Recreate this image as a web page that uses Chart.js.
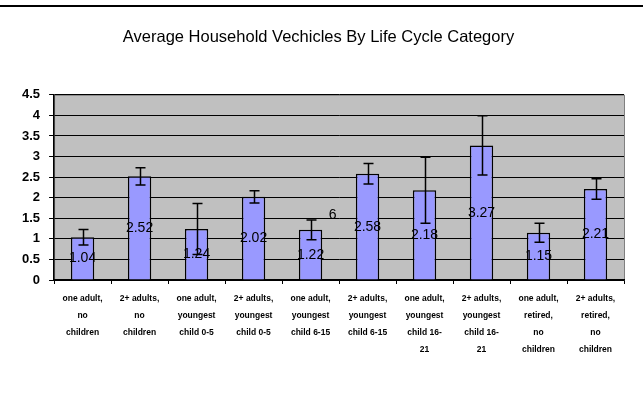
<!DOCTYPE html>
<html>
<head>
  <meta charset="UTF-8">
  <script src="https://cdn.jsdelivr.net/npm/chart.js"></script>
  <title>Average Household Vechicles</title>
  <style>
    html, body { margin: 0; padding: 0; background: #ffffff; }
    .topline { position: absolute; left: 0; top: 0; width: 643px; height: 5px; border-bottom: 2px solid #000; }
    .wrap { position: relative; width: 643px; height: 416px; }
  </style>
</head>
<body>
  <div class="wrap">
    <div class="topline"></div>
    <canvas id="chartBar" width="643" height="416"></canvas>
  </div>
  <script>
    const categories = [
      ['one adult,', 'no', 'children'],
      ['2+ adults,', 'no', 'children'],
      ['one adult,', 'youngest', 'child 0-5'],
      ['2+ adults,', 'youngest', 'child 0-5'],
      ['one adult,', 'youngest', 'child 6-15'],
      ['2+ adults,', 'youngest', 'child 6-15'],
      ['one adult,', 'youngest', 'child 16-', '21'],
      ['2+ adults,', 'youngest', 'child 16-', '21'],
      ['one adult,', 'retired,', 'no', 'children'],
      ['2+ adults,', 'retired,', 'no', 'children']
    ];
    const avgVehicles = [1.04, 2.52, 1.24, 2.02, 1.22, 2.58, 2.18, 3.27, 1.15, 2.21];
    const errorSize = [0.19, 0.21, 0.62, 0.15, 0.24, 0.25, 0.8, 0.72, 0.23, 0.25];
    const yTicks = [0, 0.5, 1, 1.5, 2, 2.5, 3, 3.5, 4, 4.5];

    // gray plot background
    const plotBg = {
      id: 'plotBg',
      beforeDraw(chart) {
        const { ctx, chartArea: a } = chart;
        ctx.save();
        ctx.fillStyle = '#c0c0c0';
        ctx.fillRect(a.left, a.top, a.right - a.left, a.bottom - a.top);
        ctx.strokeStyle = '#808080';
        ctx.lineWidth = 1;
        ctx.strokeRect(a.left + 0.5, a.top + 0.5, a.right - a.left, a.bottom - a.top);
        ctx.restore();
      }
    };

    // error bars + value labels in the middle of each bar
    const errorBars = {
      id: 'errorBars',
      afterDatasetsDraw(chart) {
        const { ctx, scales: { y } } = chart;
        const meta = chart.getDatasetMeta(0);
        ctx.save();
        ctx.strokeStyle = '#000';
        ctx.lineWidth = 1.5;
        meta.data.forEach((bar, i) => {
          const v = avgVehicles[i], e = errorSize[i];
          const top = y.getPixelForValue(v + e);
          const bot = y.getPixelForValue(v - e);
          const x = Math.round(bar.x) + 0.5;
          ctx.beginPath();
          ctx.moveTo(x, top); ctx.lineTo(x, bot);
          ctx.moveTo(x - 5, top); ctx.lineTo(x + 5, top);
          ctx.moveTo(x - 5, bot); ctx.lineTo(x + 5, bot);
          ctx.stroke();
        });
        ctx.fillStyle = '#000';
        ctx.font = '14px "Liberation Sans", Arial, sans-serif';
        ctx.textAlign = 'center';
        ctx.textBaseline = 'middle';
        meta.data.forEach((bar, i) => {
          ctx.fillText(avgVehicles[i].toFixed(2), bar.x, y.getPixelForValue(avgVehicles[i] / 2));
        });
        // stray label fragment next to the fifth bar
        const b5 = meta.data[4];
        ctx.fillText('6', b5.x + 22, y.getPixelForValue(1.58));
        ctx.restore();
      }
    };

    const ctxBar = document.getElementById('chartBar');
    const barChart = new Chart(ctxBar, {
      type: 'bar',
      data: {
        labels: categories,
        datasets: [{
          data: avgVehicles,
          backgroundColor: '#9999ff',
          borderColor: '#000',
          borderWidth: 1.5,
          barPercentage: 0.41,
          categoryPercentage: 1
        }]
      },
      options: {
        responsive: false,
        animation: false,
        layout: { padding: { left: 13, right: 19, top: 0, bottom: 52 } },
        scales: {
          y: {
            min: 0,
            max: 4.5,
            afterBuildTicks(axis) { axis.ticks = yTicks.map(v => ({ value: v })); },
            grid: { color: '#000', lineWidth: 1, tickLength: 5, tickColor: '#000' },
            border: { color: '#000', width: 1.5 },
            ticks: {
              color: '#000',
              padding: 9,
              callback: v => String(v),
              font: { family: '"Liberation Sans", Arial, sans-serif', size: 13, weight: 'bold' }
            }
          },
          x: {
            grid: { offset: true, drawOnChartArea: false, tickLength: 4, tickColor: '#000' },
            border: { color: '#000', width: 1.5 },
            ticks: {
              color: '#000',
              maxRotation: 0,
              autoSkip: false,
              padding: 6,
              font: { family: '"Liberation Sans", Arial, sans-serif', size: 8.5, weight: 'bold', lineHeight: 2.0 }
            }
          }
        },
        plugins: {
          legend: { display: false },
          tooltip: { enabled: false },
          title: {
            display: true,
            text: 'Average Household Vechicles By Life Cycle Category',
            color: '#000',
            font: { family: '"Liberation Sans", Arial, sans-serif', size: 16.5, weight: 'normal' },
            padding: { top: 28, bottom: 47 }
          }
        }
      },
      plugins: [plotBg, errorBars]
    });
  </script>
</body>
</html>
